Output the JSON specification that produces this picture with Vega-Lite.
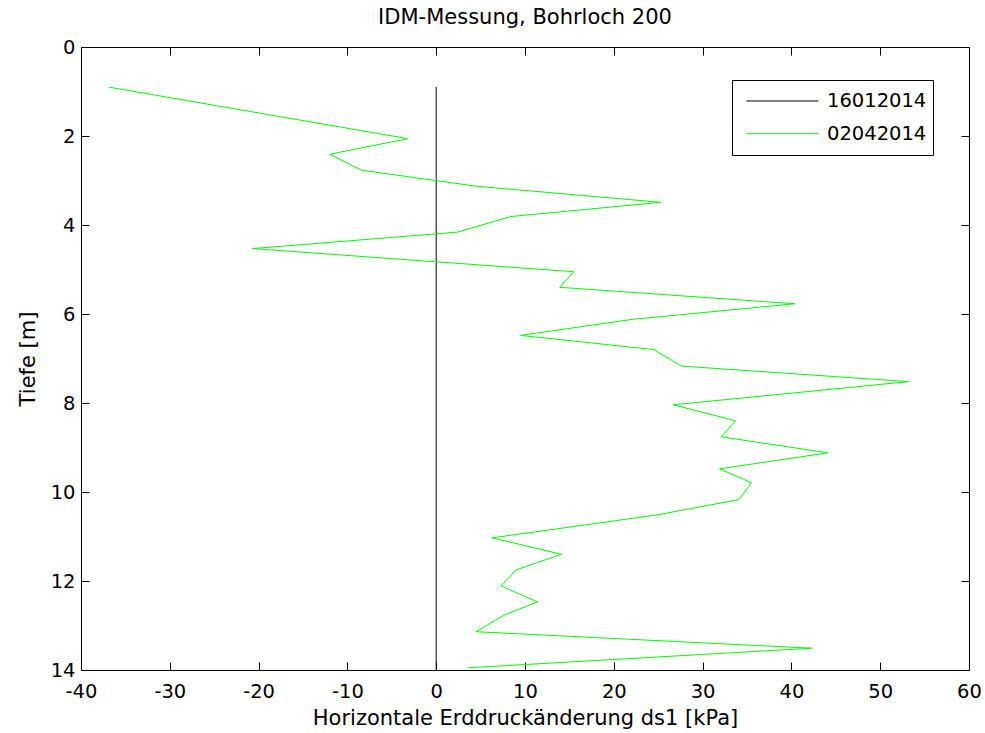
{
  "$schema": "https://vega.github.io/schema/vega-lite/v6.json",
  "width": 888,
  "height": 623,
  "autosize": {"type": "none"},
  "padding": {"left": 81, "top": 47, "right": 16, "bottom": 63},
  "background": "white",
  "config": {
    "font": "DejaVu Sans",
    "view": {"stroke": "black", "strokeWidth": 1},
    "axis": {"grid": false, "domain": false, "tickColor": "black", "tickWidth": 1, "tickSize": -8,
             "labelColor": "black", "titleColor": "black", "labelFontSize": 19.5, "titleFontSize": 21,
             "titleFontWeight": "normal", "labelFlush": false, "labelOverlap": false, "labelFont": "DejaVu Sans", "titleFont": "DejaVu Sans",
             "labelExpr": "datum.value < 0 ? '-' + abs(datum.value) : '' + datum.value"},
    "title": {"fontSize": 21, "fontWeight": "normal", "color": "black", "font": "DejaVu Sans"}
  },
  "title": {"text": "IDM-Messung, Bohrloch 200", "offset": 9},
  "datasets": {
    "black": [
      {"serie": "16012014", "depth": 0.9, "ds1": 0},
      {"serie": "16012014", "depth": 14.0, "ds1": 0}
    ],
    "green": [
      {"serie": "02042014", "depth": 0.90, "ds1": -36.9},
      {"serie": "02042014", "depth": 2.06, "ds1": -3.2},
      {"serie": "02042014", "depth": 2.41, "ds1": -12.0},
      {"serie": "02042014", "depth": 2.77, "ds1": -8.4},
      {"serie": "02042014", "depth": 3.13, "ds1": 4.6},
      {"serie": "02042014", "depth": 3.49, "ds1": 25.3},
      {"serie": "02042014", "depth": 3.81, "ds1": 8.4},
      {"serie": "02042014", "depth": 4.16, "ds1": 2.4},
      {"serie": "02042014", "depth": 4.53, "ds1": -20.7},
      {"serie": "02042014", "depth": 5.05, "ds1": 15.5},
      {"serie": "02042014", "depth": 5.40, "ds1": 13.9},
      {"serie": "02042014", "depth": 5.77, "ds1": 40.4},
      {"serie": "02042014", "depth": 6.12, "ds1": 22.1},
      {"serie": "02042014", "depth": 6.48, "ds1": 9.5},
      {"serie": "02042014", "depth": 6.80, "ds1": 24.5},
      {"serie": "02042014", "depth": 7.17, "ds1": 27.6},
      {"serie": "02042014", "depth": 7.52, "ds1": 53.2},
      {"serie": "02042014", "depth": 8.04, "ds1": 26.7},
      {"serie": "02042014", "depth": 8.40, "ds1": 33.7},
      {"serie": "02042014", "depth": 8.76, "ds1": 32.1},
      {"serie": "02042014", "depth": 9.12, "ds1": 44.1},
      {"serie": "02042014", "depth": 9.48, "ds1": 31.9},
      {"serie": "02042014", "depth": 9.79, "ds1": 35.5},
      {"serie": "02042014", "depth": 10.17, "ds1": 34.1},
      {"serie": "02042014", "depth": 10.52, "ds1": 24.7},
      {"serie": "02042014", "depth": 11.03, "ds1": 6.3},
      {"serie": "02042014", "depth": 11.40, "ds1": 14.1},
      {"serie": "02042014", "depth": 11.75, "ds1": 9.0},
      {"serie": "02042014", "depth": 12.11, "ds1": 7.3},
      {"serie": "02042014", "depth": 12.47, "ds1": 11.4},
      {"serie": "02042014", "depth": 12.77, "ds1": 7.6},
      {"serie": "02042014", "depth": 13.14, "ds1": 4.5},
      {"serie": "02042014", "depth": 13.51, "ds1": 42.3},
      {"serie": "02042014", "depth": 13.95, "ds1": 3.6}
    ]
  },
  "layer": [
    {
      "data": {"name": "black"},
      "mark": {"type": "line", "strokeWidth": 1, "clip": true},
      "encoding": {
        "x": {"field": "ds1", "type": "quantitative",
              "scale": {"domain": [-40, 60], "nice": false, "zero": false},
              "axis": {"orient": "bottom", "values": [-40, -30, -20, -10, 0, 10, 20, 30, 40, 50, 60],
                       "title": "Horizontale Erddruckänderung ds1 [kPa]", "labelPadding": 20, "titlePadding": 7}},
        "y": {"field": "depth", "type": "quantitative",
              "scale": {"domain": [0, 14], "reverse": true, "nice": false, "zero": false},
              "axis": {"orient": "left", "values": [0, 2, 4, 6, 8, 10, 12, 14], "title": "Tiefe [m]",
                       "labelPadding": 14, "labelBaseline": "middle", "titlePadding": 12}},
        "order": {"field": "depth", "type": "quantitative"},
        "color": {"field": "serie", "type": "nominal",
                  "scale": {"domain": ["16012014", "02042014"], "range": ["#000000", "#00ff00"]},
                  "legend": {"title": null, "orient": "none", "legendX": 651, "legendY": 33,
                             "symbolType": "stroke", "symbolSize": 5184, "symbolStrokeWidth": 1,
                             "clipHeight": 30, "rowPadding": 2.7, "labelOffset": 8, "symbolOffset": 8,
                             "labelFontSize": 19.5, "labelFont": "DejaVu Sans", "labelColor": "black",
                             "padding": 6, "strokeColor": "black", "fillColor": "white", "cornerRadius": 0}}
      }
    },
    {
      "data": {"name": "green"},
      "mark": {"type": "line", "strokeWidth": 1, "clip": true},
      "encoding": {
        "x": {"field": "ds1", "type": "quantitative",
              "axis": {"orient": "top", "values": [-40, -30, -20, -10, 0, 10, 20, 30, 40, 50, 60], "labels": false, "title": null}},
        "y": {"field": "depth", "type": "quantitative",
              "axis": {"orient": "right", "values": [0, 2, 4, 6, 8, 10, 12, 14], "labels": false, "title": null}},
        "order": {"field": "depth", "type": "quantitative"},
        "color": {"field": "serie", "type": "nominal"}
      }
    }
  ],
  "resolve": {"axis": {"x": "independent", "y": "independent"}}
}
